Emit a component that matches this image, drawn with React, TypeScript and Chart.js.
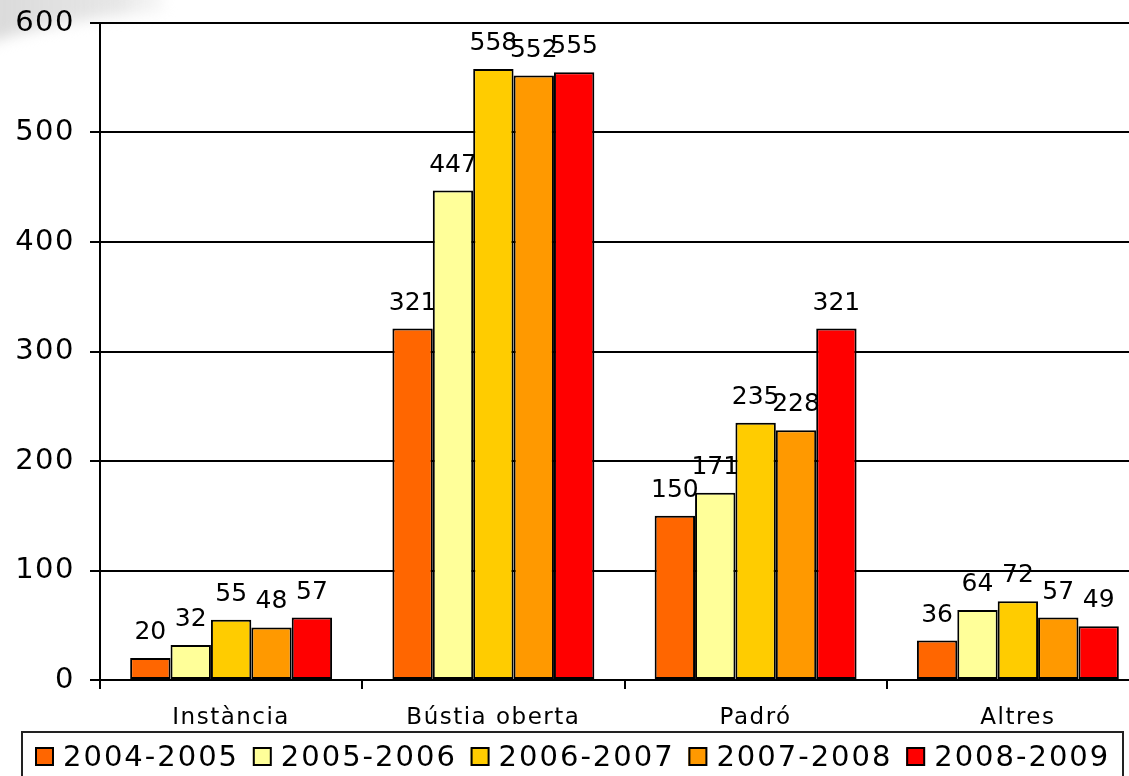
import React, { useEffect, useRef } from "react";
import { Chart, registerables } from "chart.js";

Chart.register(...registerables);

const categories = ["Instància", "Bústia oberta", "Padró", "Altres"];
const seriesLabels = ["2004-2005", "2005-2006", "2006-2007", "2007-2008", "2008-2009"];
const s2004 = [20, 321, 150, 36];
const s2005 = [32, 447, 171, 64];
const s2006 = [55, 558, 235, 72];
const s2007 = [48, 552, 228, 57];
const s2008 = [57, 555, 321, 49];
const seriesValues = [s2004, s2005, s2006, s2007, s2008];
const seriesColors = ["#FF6600", "#FFFF99", "#FFCC00", "#FF9900", "#FF0000"];
const yMin = 0;
const yMax = 600;
const yStep = 100;

const FONT = '"DejaVu Sans", Verdana, sans-serif';

const swooshPlugin = {
  id: "swoosh",
  beforeDraw(chart: any) {
    const ctx = chart.ctx as CanvasRenderingContext2D;
    ctx.save();
    ctx.filter = "blur(7px)";
    const g = ctx.createLinearGradient(0, 0, 170, 0);
    g.addColorStop(0, "rgba(215,215,215,0.9)");
    g.addColorStop(0.7, "rgba(225,225,225,0.8)");
    g.addColorStop(1, "rgba(235,235,235,0.3)");
    ctx.fillStyle = g;
    ctx.beginPath();
    ctx.moveTo(-30, -30);
    ctx.lineTo(165, -30);
    ctx.lineTo(162, 12);
    ctx.quadraticCurveTo(70, 16, -30, 48);
    ctx.closePath();
    ctx.fill();
    ctx.restore();
  },
};

const spacingPlugin = {
  id: "spacing",
  beforeLayout(chart: any) {
    (chart.ctx as any).letterSpacing = "1.5px";
  },
  beforeDraw(chart: any) {
    (chart.ctx as any).letterSpacing = "1.5px";
  },
};

const valueLabelPlugin = {
  id: "valueLabels",
  afterDatasetsDraw(chart: any) {
    const ctx = chart.ctx as CanvasRenderingContext2D;
    ctx.save();
    (ctx as any).letterSpacing = "0px";
    ctx.font = `25px ${FONT}`;
    ctx.fillStyle = "#000";
    ctx.textAlign = "center";
    ctx.textBaseline = "alphabetic";
    chart.data.datasets.forEach((ds: any, i: number) => {
      const meta = chart.getDatasetMeta(i);
      meta.data.forEach((bar: any, j: number) => {
        ctx.fillText(String(ds.data[j]), bar.x, bar.y - 19);
      });
    });
    ctx.restore();
  },
};

const legendPlugin = {
  id: "boxLegend",
  afterDraw(chart: any) {
    const ctx = chart.ctx as CanvasRenderingContext2D;
    const top = chart.chartArea.bottom + 52;
    ctx.save();
    (ctx as any).letterSpacing = "2px";
    ctx.font = `29px ${FONT}`;
    ctx.lineWidth = 2;
    ctx.strokeStyle = "#222";
    ctx.strokeRect(22, top, 1101, 80);
    chart.data.datasets.forEach((ds: any, i: number) => {
      const x = 35 + i * 217.8;
      ctx.fillStyle = ds.backgroundColor;
      ctx.fillRect(x, top + 16, 18, 18);
      ctx.lineWidth = 2;
      ctx.strokeStyle = "#000";
      ctx.strokeRect(x + 1, top + 16, 17, 17);
      ctx.fillStyle = "#000";
      ctx.textAlign = "left";
      ctx.textBaseline = "alphabetic";
      ctx.fillText(ds.label, x + 28, top + 34);
    });
    ctx.restore();
  },
};

export default function App() {
  const ref = useRef<HTMLCanvasElement | null>(null);

  useEffect(() => {
    document.body.style.margin = "0";
    document.body.style.overflow = "hidden";
    const canvas = ref.current;
    if (!canvas) return;
    const chart = new Chart(canvas, {
      type: "bar",
      data: {
        labels: categories,
        datasets: seriesLabels.map((label, i) => ({
          label,
          data: seriesValues[i],
          backgroundColor: seriesColors[i],
          borderColor: "#000",
          borderWidth: 2,
          borderSkipped: false,
          categoryPercentage: 0.77,
          barPercentage: 1,
        })),
      },
      options: {
        animation: false,
        responsive: false,
        devicePixelRatio: 1,
        layout: { padding: { top: 23, right: 3, left: 0, bottom: 0 } },
        plugins: {
          legend: { display: false },
          tooltip: { enabled: false },
        },
        scales: {
          x: {
            offset: true,
            grid: {
              offset: true,
              display: true,
              drawOnChartArea: false,
              drawTicks: true,
              tickLength: 9,
              color: "#000",
              lineWidth: 2,
            },
            border: { display: true, color: "#000", width: 2 },
            ticks: {
              color: "#000",
              font: { family: FONT, size: 23 },
              padding: 15,
              maxRotation: 0,
            },
            afterFit(scale: any) {
              scale.height = 96;
              scale.paddingLeft = 0;
              scale.paddingRight = 0;
            },
          },
          y: {
            min: yMin,
            max: yMax,
            grid: {
              color: "#000",
              lineWidth: 2,
              drawTicks: true,
              tickLength: 10,
            },
            border: { display: true, color: "#000", width: 2 },
            ticks: {
              stepSize: yStep,
              color: "#000",
              font: { family: FONT, size: 29 },
              padding: 15,
            },
            afterFit(scale: any) {
              scale.width = 100;
              scale.paddingTop = 0;
              scale.paddingBottom = 0;
            },
          },
        },
      },
      plugins: [swooshPlugin, spacingPlugin, valueLabelPlugin, legendPlugin],
    });
    return () => chart.destroy();
  }, []);

  return (
    <canvas
      ref={ref}
      width={1152}
      height={776}
      style={{ position: "absolute", left: 0, top: 0, display: "block", width: 1152, height: 776 }}
    />
  );
}
